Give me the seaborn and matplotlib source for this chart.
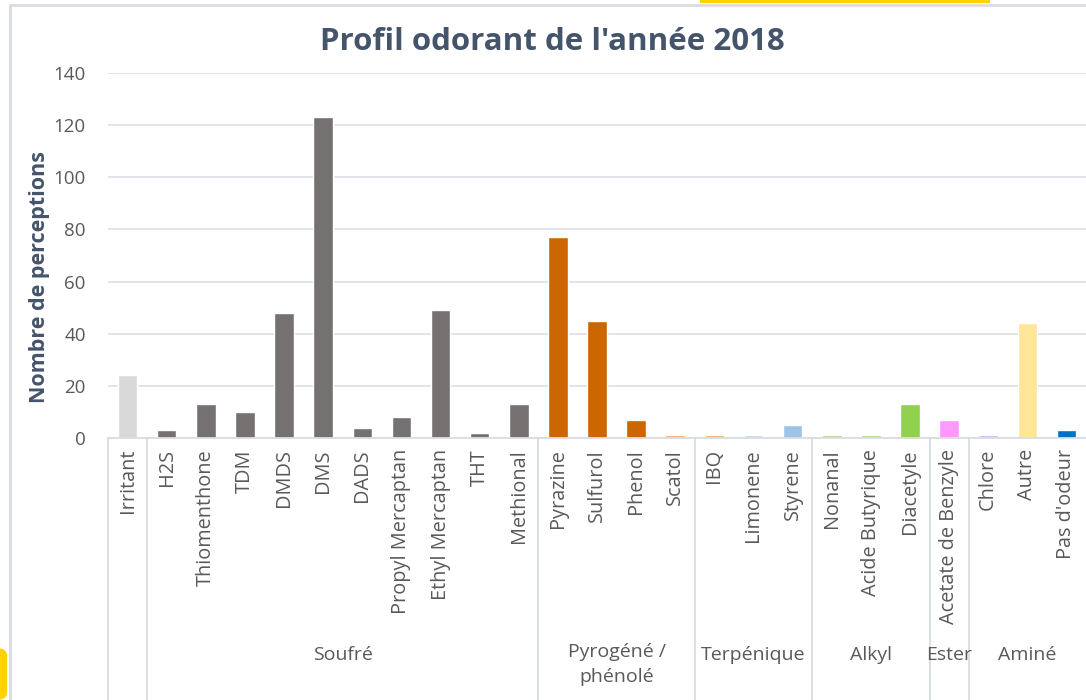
import matplotlib
matplotlib.use("Agg")
import matplotlib.pyplot as plt
from matplotlib.lines import Line2D
from matplotlib.patches import Rectangle, FancyBboxPatch
import matplotlib.transforms as mtrans
import seaborn as sns
import pandas as pd

categories = ["Irritant", "H2S", "Thiomenthone", "TDM", "DMDS", "DMS", "DADS",
              "Propyl Mercaptan", "Ethyl Mercaptan", "THT", "Methional",
              "Pyrazine", "Sulfurol", "Phenol", "Scatol",
              "IBQ", "Limonene", "Styrene",
              "Nonanal", "Acide Butyrique", "Diacetyle",
              "Acetate de Benzyle",
              "Chlore", "Autre", "Pas d'odeur"]
values = [24, 3, 13, 10, 48, 123, 4, 8, 49, 2, 13,
          77, 45, 7, 1,
          1, 1, 5,
          1, 1, 13,
          7,
          1, 44, 3]
colors = ["#d9d9d9"] + ["#767171"] * 10 + ["#cc6600"] * 3 + ["#f0a868",
          "#f0a868", "#bdd7ee", "#9dc3e6",
          "#a9d18e", "#a9d18e", "#92d050",
          "#ff99ff",
          "#d5b0f5", "#ffe699", "#0070c0"]
groups = ["", "Soufré", "Pyrogéné /\nphénolé", "Terpénique", "Alkyl", "Ester", "Aminé"]
group_sizes = [1, 10, 4, 3, 3, 1, 3]

sns.set_style("white")
plt.rcParams['font.family'] = ['Open Sans', 'DejaVu Sans']

df = pd.DataFrame({"cat": categories, "val": values})

fig = plt.figure(figsize=(10.86, 7.0), dpi=100)
ax = fig.add_axes([108 / 1086, 1 - 438 / 700, 1 - 108 / 1086, 365 / 700])

sns.barplot(data=df, x="cat", y="val", hue="cat", palette=colors, legend=False,
            width=0.5, ax=ax, saturation=1)

ax.set_ylim(0, 140)
ax.set_xlim(-0.5, len(categories) - 0.5)
ax.set_yticks(range(0, 141, 20))
ax.yaxis.grid(True, color="#dfe2e7", linewidth=1.3)
ax.set_axisbelow(True)
for s in ["top", "right", "left"]:
    ax.spines[s].set_visible(False)
ax.spines["bottom"].set_color("#d9dde3")
ax.spines["bottom"].set_linewidth(1.3)

ax.tick_params(axis="y", length=0, pad=16, labelsize=13.5, labelcolor="#595959")
ax.tick_params(axis="x", length=0, pad=8, labelsize=14.3, labelcolor="#595959")
ax.set_xticks(range(len(categories)))
ax.set_xticklabels(categories, rotation=90, va="top", ha="center")
ax.set_xlabel("")
ax.set_ylabel("")

fig.text(40 / 1086, 1 - 277 / 700, "Nombre de perceptions", rotation=90,
         fontsize=15.5, fontweight="bold", color="#44546a", ha="center", va="center")

fig.text(552 / 1086, 1 - 42 / 700, "Profil odorant de l'année 2018", fontsize=22.5,
         fontweight="bold", color="#44546a", ha="center", va="center")

# multi-level category separators and group labels
trans = mtrans.blended_transform_factory(ax.transData, ax.transAxes)
y_bottom = -(700 - 438) / 365
pos = -0.5
bounds = [pos]
for n in group_sizes:
    pos += n
    bounds.append(pos)
for b in bounds[:-1]:
    ax.add_line(Line2D([b, b], [0, y_bottom], transform=trans, color="#d9dde3",
                       linewidth=1.3, clip_on=False))
for g, a, b in zip(groups, bounds[:-1], bounds[1:]):
    if not g:
        continue
    if "\n" in g:
        ax.text((a + b) / 2, -(643 - 438) / 365, g, transform=trans, ha="center",
                va="top", fontsize=14, color="#595959", linespacing=1.5)
    else:
        ax.text((a + b) / 2, -(655 - 438) / 365, g, transform=trans, ha="center",
                va="center", fontsize=14, color="#595959")

# frame decorations
fig.add_artist(Line2D([10 / 1086, 1], [1 - 5 / 700, 1 - 5 / 700], transform=fig.transFigure,
                      color="#d9dde3", linewidth=2))
fig.add_artist(Line2D([10 / 1086, 10 / 1086], [0, 1 - 5 / 700], transform=fig.transFigure,
                      color="#d9dde3", linewidth=2))
fig.add_artist(Rectangle((700 / 1086, 1 - 3 / 700), 290 / 1086, 3 / 700,
                         transform=fig.transFigure, color="#ffd200", linewidth=0))
fig.add_artist(FancyBboxPatch((-10 / 1086, 0), 17 / 1086, 52 / 700,
                              boxstyle="round,pad=0,rounding_size=0.01",
                              transform=fig.transFigure, color="#ffd200", linewidth=0))

fig.savefig("out.png", dpi=100)
